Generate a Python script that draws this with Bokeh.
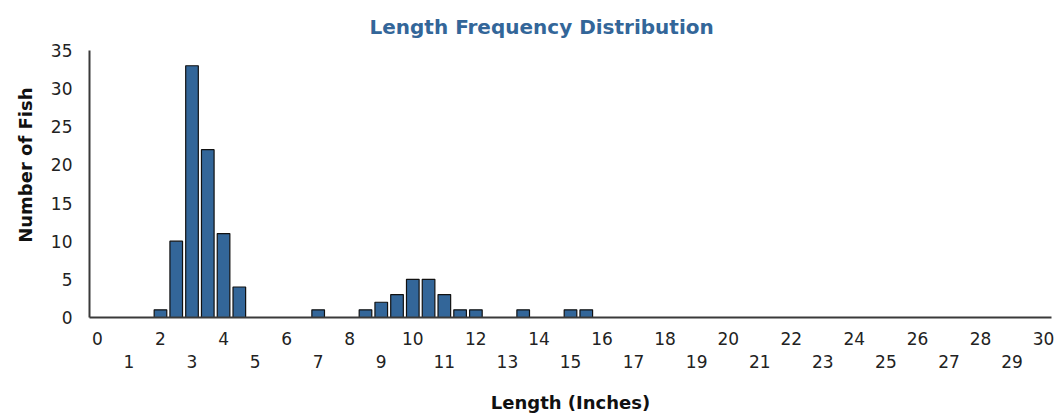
from bokeh.plotting import figure
from bokeh.models import Range1d, LinearAxis, FixedTicker, Title
from bokeh.embed import file_html
from bokeh.resources import INLINE

# Data (length bin in inches -> number of fish)
lengths = [2.0, 2.5, 3.0, 3.5, 4.0, 4.5, 7.0, 8.5, 9.0, 9.5, 10.0, 10.5, 11.0, 11.5, 12.0, 13.5, 15.0, 15.5]
counts = [1, 10, 33, 22, 11, 4, 1, 1, 2, 3, 5, 5, 3, 1, 1, 1, 1, 1]
even_ticks = list(range(0, 31, 2))
odd_ticks = list(range(1, 30, 2))
y_ticks = list(range(0, 36, 5))

TICK_FONT = "DejaVu Sans"
TICK_SIZE = "17px"
AXIS_COLOR = "#3a3a3a"

p = figure(width=1055, height=415, output_backend="svg", toolbar_location=None,
           x_range=Range1d(-0.25, 30.25), y_range=Range1d(0, 35),
           min_border_left=89, min_border_right=4, min_border_top=48, min_border_bottom=96)

p.title.text = "Length Frequency Distribution"
p.title.text_color = "#336699"
p.title.text_font = "DejaVu Sans"
p.title.text_font_style = "bold"
p.title.text_font_size = "20px"
p.title.align = "left"
p.title.offset = 280
p.title.standoff = 24

p.vbar(x=lengths, top=counts, width=0.4, fill_color="#336699", line_color="#111111", line_width=1.2)

p.grid.visible = False
p.outline_line_color = None

# y axis
ya = p.yaxis[0]
ya.ticker = FixedTicker(ticks=y_ticks)
ya.major_label_text_font = TICK_FONT
ya.major_label_text_font_size = TICK_SIZE
ya.major_label_text_color = "#222222"
ya.major_label_standoff = 11
ya.major_tick_line_color = None
ya.minor_tick_line_color = None
ya.axis_line_color = AXIS_COLOR
ya.axis_line_width = 2

ylab = Title(text="Number of Fish", align="right", offset=37, standoff=23,
             text_font="DejaVu Sans", text_font_style="bold",
             text_font_size="18px", text_color="#111111")
p.add_layout(ylab, "left")

# x axis, even labels
xa = p.xaxis[0]
xa.ticker = FixedTicker(ticks=even_ticks)
xa.major_label_text_font = TICK_FONT
xa.major_label_text_font_size = TICK_SIZE
xa.major_label_text_color = "#222222"
xa.major_label_standoff = 8
xa.major_tick_line_color = None
xa.minor_tick_line_color = None
xa.axis_line_color = AXIS_COLOR
xa.axis_line_width = 2

# x axis, odd labels (second row)
xb = LinearAxis(ticker=FixedTicker(ticks=odd_ticks))
xb.major_label_text_font = TICK_FONT
xb.major_label_text_font_size = TICK_SIZE
xb.major_label_text_color = "#222222"
xb.major_label_standoff = 1
xb.major_tick_line_color = None
xb.minor_tick_line_color = None
xb.axis_line_color = None
xb.axis_label = "Length (Inches)"
xb.axis_label_text_font = "DejaVu Sans"
xb.axis_label_text_font_style = "bold"
xb.axis_label_text_font_size = "18px"
xb.axis_label_text_color = "#111111"
xb.axis_label_standoff = 21
p.add_layout(xb, "below")

open("out.html", "w").write(file_html(p, INLINE))
